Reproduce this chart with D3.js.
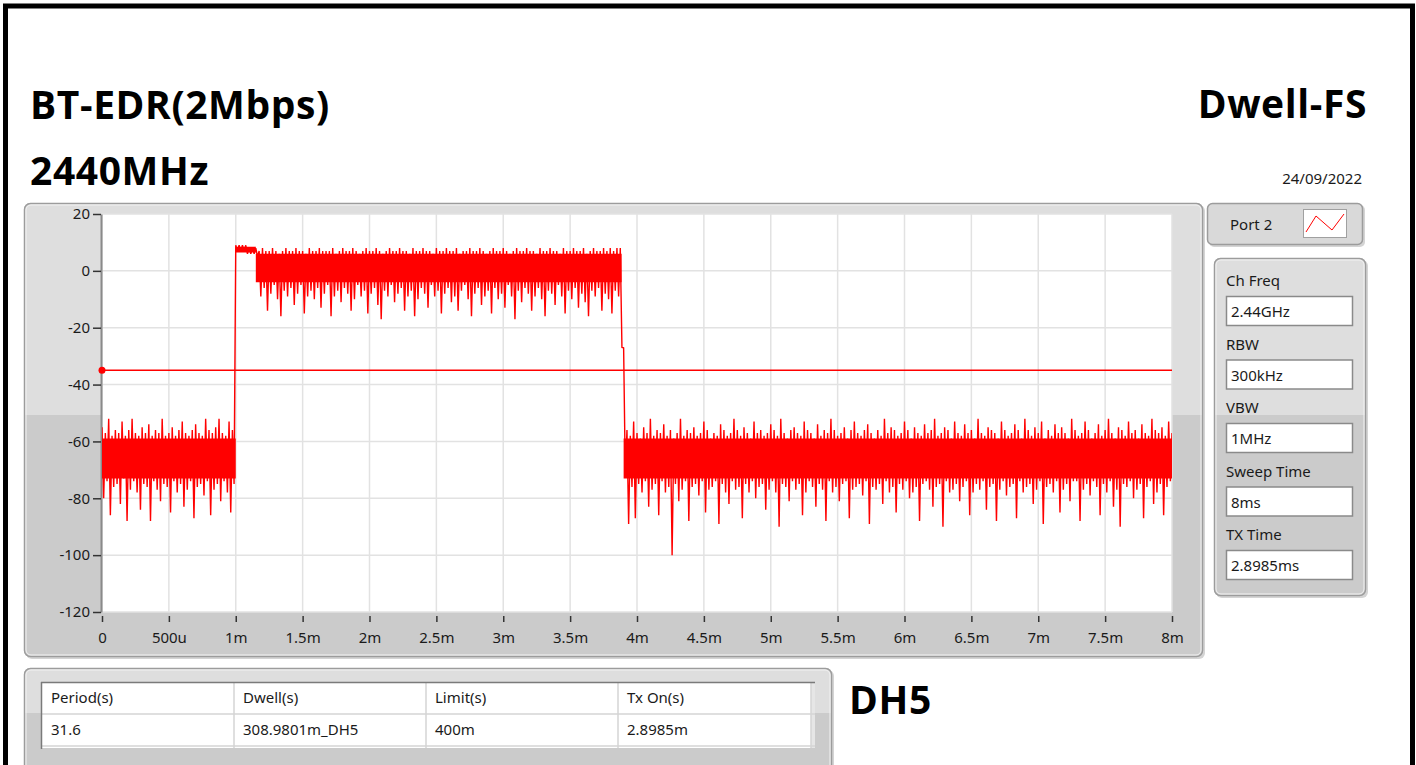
<!DOCTYPE html>
<html><head><meta charset="utf-8">
<script src="https://cdn.jsdelivr.net/npm/d3@7"></script>
<style>
html,body{margin:0;padding:0;background:#fff;}
svg{display:block;}
text{font-family:"Noto Sans","Open Sans",sans-serif;fill:#1a1a1a;}
.big{font-family:"Open Sans","Noto Sans",sans-serif;font-weight:700;fill:#000;letter-spacing:0.6px;}
</style></head><body>
<svg id="c" width="1416" height="765"></svg>
<script>
// ---------------- DATA ----------------
const titleLeft = "BT-EDR(2Mbps)";
const subTitle = "2440MHz";
const titleRight = "Dwell-FS";
const dateText = "24/09/2022";
const modeText = "DH5";

const yTicks = [20, 0, -20, -40, -60, -80, -100, -120];
const xTicks = [0, 0.5, 1, 1.5, 2, 2.5, 3, 3.5, 4, 4.5, 5, 5.5, 6, 6.5, 7, 7.5, 8];
const xTickLabels = ["0","500u","1m","1.5m","2m","2.5m","3m","3.5m","4m","4.5m","5m","5.5m","6m","6.5m","7m","7.5m","8m"];

const limitValue = -35;           // dB, limit line
const sampleStart = 0;            // ms
const sampleStep = 0.025;         // ms per trace bin

// per-bin maxima of the trace (dB)
const traceHi = [
-55,-57,-52,-58,-56,-57,-53,-58,-56,-52,
-57,-58,-55,-57,-54,-58,-56,-57,-52,-58,
-57,-55,-58,-56,-53,-57,-58,-56,-54,-57,
-58,-52,-56,-57,-55,-52,-57,-58,-53,-56,
9,9,9,9,8,8,8,
7,8,7,7,8,7,6,7,8,7,
7,8,7,7,6,8,7,7,8,7,
7,7,8,6,7,8,7,7,8,7,
6,7,8,7,7,8,7,6,7,8,
7,7,8,7,7,6,8,7,7,8,
7,7,6,8,7,7,8,7,7,8,
6,7,7,8,7,7,8,7,6,7,
8,7,7,8,7,6,7,8,7,7,
8,7,7,6,8,7,7,8,7,7,
6,8,7,7,8,7,7,8,6,7,
8,7,7,8,7,8,7,8,8,
-27,
-56,-58,-53,-57,-59,-55,-57,-52,-58,-56,
-57,-54,-58,-56,-59,-57,-52,-58,-56,-57,
-55,-58,-57,-53,-56,-59,-57,-58,-54,-56,
-58,-57,-52,-56,-58,-55,-57,-59,-53,-57,
-56,-58,-57,-54,-56,-58,-52,-57,-59,-56,
-55,-57,-58,-53,-56,-57,-59,-54,-58,-56,
-57,-52,-56,-58,-57,-55,-59,-56,-53,-57,
-58,-56,-54,-57,-59,-56,-58,-52,-57,-55,
-56,-58,-57,-53,-56,-59,-55,-57,-58,-54,
-57,-56,-52,-58,-57,-55,-56,-59,-53,-57,
-58,-54,-57,-56,-59,-52,-57,-58,-55,-56,
-57,-59,-53,-56,-58,-57,-54,-56,-59,-52,
-56,-58,-55,-57,-53,-59,-56,-58,-54,-57,
-55,-57,-59,-52,-56,-58,-57,-53,-56,-59,
-57,-54,-58,-56,-52,-57,-59,-55,-56,-58,
-53,-57,-56,-59,-54,-57,-58,-52,-56,-57,
-55,-58,-53,-57
];
// per-bin minima of the trace (dB)
const traceLo = [
-80,-74,-86,-76,-75,-82,-73,-88,-77,-74,
-78,-84,-75,-76,-88,-74,-77,-81,-75,-76,
-85,-74,-78,-75,-83,-77,-74,-87,-76,-75,
-79,-74,-86,-77,-75,-81,-74,-78,-85,-75,
7,7,7,6,6,6,5,
-9,-6,-14,-8,-5,-10,-16,-7,-9,-6,
-12,-8,-5,-15,-9,-7,-10,-6,-13,-8,
-5,-16,-9,-7,-11,-6,-8,-14,-10,-5,
-9,-7,-15,-8,-6,-12,-17,-7,-9,-5,
-11,-8,-6,-14,-9,-7,-16,-10,-6,-8,
-13,-5,-9,-7,-15,-8,-6,-11,-9,-14,
-7,-5,-10,-16,-8,-6,-12,-9,-7,-15,
-6,-10,-8,-13,-5,-9,-17,-7,-11,-6,
-8,-14,-9,-6,-10,-16,-7,-8,-12,-5,
-9,-15,-7,-10,-6,-13,-8,-11,-16,-7,
-9,-6,-14,-8,-10,-15,-7,-9,-27,
-72,
-89,-76,-87,-75,-78,-74,-83,-77,-75,-86,
-74,-78,-76,-100,-75,-81,-77,-74,-88,-76,
-75,-79,-74,-85,-77,-76,-74,-89,-75,-78,
-82,-74,-77,-76,-87,-75,-78,-74,-80,-76,
-75,-84,-77,-74,-78,-90,-75,-76,-81,-74,
-77,-75,-86,-78,-74,-76,-83,-75,-77,-88,
-74,-78,-76,-81,-75,-74,-87,-77,-76,-75,
-79,-74,-89,-76,-77,-75,-82,-74,-78,-76,
-85,-75,-77,-74,-80,-78,-76,-88,-75,-74,
-77,-83,-76,-75,-90,-74,-78,-77,-75,-81,
-76,-74,-86,-78,-75,-77,-74,-84,-76,-75,
-88,-77,-74,-79,-76,-75,-87,-74,-78,-76,
-75,-82,-77,-74,-89,-76,-75,-78,-74,-85,
-77,-75,-81,-74,-74,-88,-77,-75,-79,-74,
-76,-86,-75,-78,-74,-83,-77,-90,-75,-76,
-74,-80,-77,-75,-87,-76,-74,-82,-78,-75,
-86,-76,-74,-81
];
// solid core band of the trace (always inside every bin's range)
const coreTimes  = [0,   1.0, 1.15, 3.885, 3.9, 8.0];
const coreTop    = [-59, 8.5, 6,    -27,   -59, -59];
const coreBottom = [-73, 6.5, -4,   -27,   -73, -73];

const legendName = "Port 2";
const paramLabels = ["Ch Freq", "RBW", "VBW", "Sweep Time", "TX Time"];
const paramValues = ["2.44GHz", "300kHz", "1MHz", "8ms", "2.8985ms"];
const tableHeaders = ["Period(s)", "Dwell(s)", "Limit(s)", "Tx On(s)"];
const tableRow = ["31.6", "308.9801m_DH5", "400m", "2.8985m"];

// ---------------- DRAW ----------------
const svg = d3.select("#c");
const defs = svg.append("defs");

function panel(x, y, w, h, split, clipId) {
  const g = svg.append("g");
  g.append("rect").attr("x", x + 2).attr("y", y + 2).attr("width", w).attr("height", h)
    .attr("rx", 6).attr("fill", "#d4d4d4");
  defs.append("clipPath").attr("id", clipId).append("rect")
    .attr("x", x).attr("y", y).attr("width", w).attr("height", h).attr("rx", 6);
  const inner = g.append("g").attr("clip-path", `url(#${clipId})`);
  inner.append("rect").attr("x", x).attr("y", y).attr("width", w).attr("height", h).attr("fill", "#cbcbcb");
  inner.append("rect").attr("x", x).attr("y", y).attr("width", w).attr("height", split - y).attr("fill", "#dedede");
  g.append("rect").attr("x", x + 0.5).attr("y", y + 0.5).attr("width", w - 1).attr("height", h - 1)
    .attr("rx", 6).attr("fill", "none").attr("stroke", "#9c9c9c").attr("stroke-width", 1.5);
  g.append("rect").attr("x", x + 2).attr("y", y + 2).attr("width", w - 4).attr("height", h - 4)
    .attr("rx", 5).attr("fill", "none").attr("stroke", "#f2f2f2").attr("stroke-width", 1);
  return g;
}

// outer black frame
svg.append("rect").attr("x", 5.5).attr("y", 6).attr("width", 1407).attr("height", 800)
  .attr("fill", "none").attr("stroke", "#000").attr("stroke-width", 5);

// titles
svg.append("text").attr("class", "big").attr("x", 30).attr("y", 119).attr("font-size", 39).text(titleLeft);
svg.append("text").attr("class", "big").attr("x", 30).attr("y", 185).attr("font-size", 39).text(subTitle);
svg.append("text").attr("class", "big").attr("x", 1367).attr("y", 118).attr("font-size", 39)
  .attr("text-anchor", "end").text(titleRight);
svg.append("text").attr("x", 1362).attr("y", 184).attr("font-size", 15)
  .attr("text-anchor", "end").text(dateText);

// graph panel
panel(24, 203, 1179, 454, 415, "clipG");

const x = d3.scaleLinear().domain([0, 8]).range([102, 1172]);
const y = d3.scaleLinear().domain([-120, 20]).range([612, 214]);

svg.append("rect").attr("x", x(0)).attr("y", y(20)).attr("width", x(8) - x(0)).attr("height", y(-120) - y(20))
  .attr("fill", "#fff");

// grid
const grid = svg.append("g").attr("stroke", "#e2e2e2").attr("stroke-width", 1.5);
xTicks.forEach(t => grid.append("line").attr("x1", x(t)).attr("x2", x(t)).attr("y1", y(20)).attr("y2", y(-120)));
yTicks.forEach(v => grid.append("line").attr("x1", x(0)).attr("x2", x(8)).attr("y1", y(v)).attr("y2", y(v)));

// y axis
const yAxis = svg.append("g").attr("transform", "translate(101,0)")
  .call(d3.axisLeft(y).tickValues(yTicks).tickFormat(d => String(d)).tickSize(8).tickSizeOuter(0).tickPadding(3));
yAxis.select(".domain").attr("stroke", "#8a8a8a").attr("stroke-width", 2);
yAxis.selectAll(".tick line").attr("stroke", "#333").attr("stroke-width", 1.5);
yAxis.selectAll(".tick text").attr("font-size", 15).attr("font-family", "'Noto Sans',sans-serif").attr("fill", "#1a1a1a");

// x axis
const xAxis = svg.append("g").attr("transform", "translate(0,616)")
  .call(d3.axisBottom(x).tickValues(xTicks).tickFormat((d, i) => xTickLabels[i]).tickSize(6).tickSizeOuter(0).tickPadding(10));
xAxis.select(".domain").remove();
xAxis.selectAll(".tick line").attr("stroke", "#333").attr("stroke-width", 1.5);
xAxis.selectAll(".tick text").attr("font-size", 15).attr("font-family", "'Noto Sans',sans-serif").attr("fill", "#1a1a1a");

// trace
defs.append("clipPath").attr("id", "plotClip").append("rect")
  .attr("x", x(0)).attr("y", y(20)).attr("width", x(8) - x(0)).attr("height", y(-120) - y(20));
const plot = svg.append("g").attr("clip-path", "url(#plotClip)");

const coreData = coreTimes.map((t, i) => ({ t, top: coreTop[i], bot: coreBottom[i] }));
plot.append("path").datum(coreData)
  .attr("d", d3.area().x(d => x(d.t)).y0(d => y(d.bot)).y1(d => y(d.top)).curve(d3.curveStepAfter))
  .attr("fill", "#ff0000");

// trace line: each bin's maximum followed by its minimum half a bin later
const pts = [];
traceHi.forEach((h, i) => {
  const t = sampleStart + i * sampleStep;
  pts.push([t, h]);
  pts.push([t + sampleStep / 2, traceLo[i]]);
});
plot.append("path").datum(pts)
  .attr("d", d3.line().x(d => x(d[0])).y(d => y(d[1])))
  .attr("stroke", "#ff0000").attr("stroke-width", 1.4).attr("fill", "none").attr("stroke-linejoin", "bevel");

// limit line
svg.append("line").attr("x1", x(0)).attr("x2", x(8)).attr("y1", y(limitValue)).attr("y2", y(limitValue))
  .attr("stroke", "#ff0000").attr("stroke-width", 1.5);
svg.append("circle").attr("cx", x(0)).attr("cy", y(limitValue)).attr("r", 3.5).attr("fill", "#ff0000");

// legend panel
const lg = svg.append("g");
lg.append("rect").attr("x", 1209).attr("y", 205).attr("width", 156).attr("height", 42).attr("rx", 5).attr("fill", "#d4d4d4");
lg.append("rect").attr("x", 1207.5).attr("y", 203.5).attr("width", 155).attr("height", 41).attr("rx", 5)
  .attr("fill", "#d9d9d9").attr("stroke", "#9c9c9c").attr("stroke-width", 1.5);
lg.append("text").attr("x", 1230).attr("y", 230).attr("font-size", 15).text(legendName);
lg.append("rect").attr("x", 1303.5).attr("y", 209.5).attr("width", 43).attr("height", 28)
  .attr("fill", "#fff").attr("stroke", "#a0a0a0");
lg.append("polyline").attr("points", "1306,232 1316,216 1332,230 1344,214")
  .attr("fill", "none").attr("stroke", "#ff0000").attr("stroke-width", 1);

// parameter panel
panel(1214, 258, 152, 338, 415, "clipP");
svg.append("rect").attr("x", 1222).attr("y", 266).attr("width", 134).attr("height", 149).attr("fill", "#dedede");
paramLabels.forEach((lab, i) => {
  const by = 296 + i * 63.5;
  svg.append("text").attr("x", 1226).attr("y", by - 10).attr("font-size", 15).text(lab);
  svg.append("rect").attr("x", 1226.5).attr("y", by + 0.5).attr("width", 126).attr("height", 29)
    .attr("fill", "#fff").attr("stroke", "#8a8a8a").attr("stroke-width", 1.5);
  svg.append("text").attr("x", 1231).attr("y", by + 21).attr("font-size", 15).text(paramValues[i]);
});

// table panel
panel(24, 668, 808, 120, 713, "clipT");
const colX = [42, 234, 426, 618, 811];
svg.append("rect").attr("x", 42).attr("y", 682).attr("width", 773).attr("height", 66).attr("fill", "#fff");
svg.append("rect").attr("x", 811).attr("y", 682).attr("width", 4).attr("height", 66).attr("fill", "#e6e6e6");
const tl = svg.append("g").attr("stroke", "#d4d4d4").attr("stroke-width", 1.5);
colX.slice(1).forEach(cx => tl.append("line").attr("x1", cx).attr("x2", cx).attr("y1", 682).attr("y2", 748));
[714, 746].forEach(ly => tl.append("line").attr("x1", 42).attr("x2", 815).attr("y1", ly).attr("y2", ly));
svg.append("line").attr("x1", 41.5).attr("x2", 41.5).attr("y1", 682).attr("y2", 749).attr("stroke", "#7a7a7a").attr("stroke-width", 1.5);
svg.append("line").attr("x1", 41).attr("x2", 815).attr("y1", 682.5).attr("y2", 682.5).attr("stroke", "#7a7a7a").attr("stroke-width", 1.5);
tableHeaders.forEach((h, i) => {
  svg.append("text").attr("x", colX[i] + 9).attr("y", 703).attr("font-size", 15).text(h);
  svg.append("text").attr("x", colX[i] + 9).attr("y", 735).attr("font-size", 15).text(tableRow[i]);
});

svg.append("text").attr("class", "big").attr("x", 849).attr("y", 714).attr("font-size", 39).text(modeText);
</script>
</body></html>
